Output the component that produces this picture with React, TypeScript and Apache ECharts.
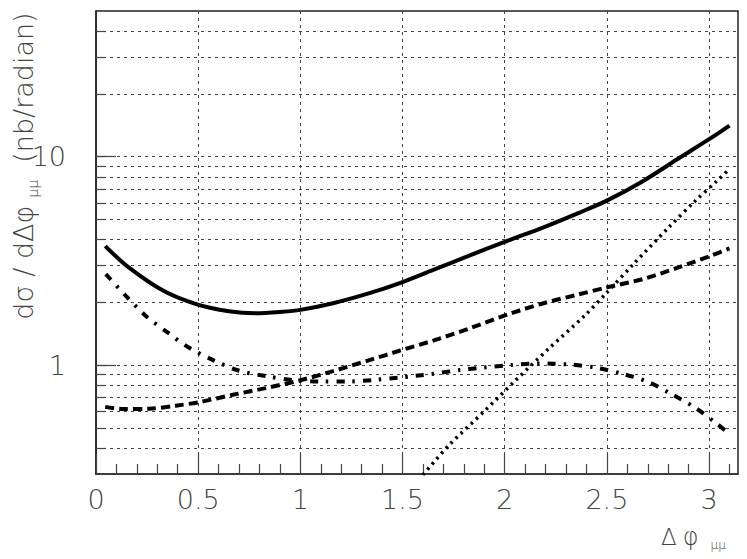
import React, { useEffect, useRef } from 'react';
import * as echarts from 'echarts';

// ---- data ----
const xMajorTicks = [0, 0.5, 1, 1.5, 2, 2.5, 3];
const xMinorTicks = [0.1, 0.2, 0.3, 0.4, 0.6, 0.7, 0.8, 0.9, 1.1, 1.2, 1.3, 1.4, 1.6, 1.7, 1.8, 1.9, 2.1, 2.2, 2.3, 2.4, 2.6, 2.7, 2.8, 2.9, 3.1];
const yMajorTicks = [1, 10];
const yGridTicks = [0.4, 0.5, 0.6, 0.7, 0.8, 0.9, 1, 2, 3, 4, 5, 6, 7, 8, 9, 10, 20, 30, 40];

const solidTotal: [number, number][] = [
  [0.045, 3.72], [0.16, 2.94], [0.33, 2.27], [0.49, 1.96], [0.65, 1.81], [0.78, 1.77],
  [0.91, 1.8], [1.0, 1.84], [1.16, 1.98], [1.33, 2.2], [1.49, 2.48], [1.65, 2.86],
  [1.82, 3.33], [2.0, 3.9], [2.19, 4.58], [2.36, 5.36], [2.5, 6.15], [2.68, 7.67],
  [2.85, 9.8], [3.01, 12.3], [3.1, 14.1],
];
const dashedCurve: [number, number][] = [
  [0.045, 0.63], [0.13, 0.615], [0.26, 0.617], [0.39, 0.638], [0.51, 0.665], [0.67, 0.72],
  [0.83, 0.775], [1.0, 0.845], [1.16, 0.935], [1.33, 1.05], [1.49, 1.175], [1.65, 1.31],
  [1.82, 1.49], [2.03, 1.77], [2.19, 1.98], [2.36, 2.18], [2.5, 2.36], [2.68, 2.59],
  [2.85, 2.94], [3.01, 3.35], [3.1, 3.63],
];
const dashDotCurve: [number, number][] = [
  [0.048, 2.73], [0.146, 2.15], [0.244, 1.72], [0.35, 1.434], [0.456, 1.21], [0.578, 1.05],
  [0.701, 0.939], [0.84, 0.882], [0.971, 0.845], [1.1, 0.834], [1.24, 0.834], [1.37, 0.85],
  [1.49, 0.872], [1.64, 0.905], [1.78, 0.946], [1.9, 0.974], [2.03, 1.0], [2.16, 1.018],
  [2.31, 1.007], [2.44, 0.974], [2.57, 0.911], [2.7, 0.832], [2.81, 0.731], [2.93, 0.626],
  [3.04, 0.521], [3.09, 0.475],
];
const dottedCurve: [number, number][] = [
  [1.6, 0.297], [1.73, 0.415], [1.9, 0.6], [2.04, 0.82], [2.22, 1.21], [2.39, 1.72],
  [2.5, 2.23], [2.63, 3.05], [2.8, 4.55], [2.93, 6.1], [3.04, 7.67], [3.1, 8.73],
];

const FONT = "'DejaVu Sans', 'Liberation Sans', sans-serif";
const TEXT_COLOR = '#444';

export default function App() {
  const ref = useRef<HTMLDivElement>(null);
  useEffect(() => {
    if (!ref.current) return;
    const chart = echarts.init(ref.current, undefined, { renderer: 'svg' });
    const grid = { color: '#444', width: 1, type: [3, 4] as number[] };
    const tickStyle = { color: '#444', width: 1.2 };
    const label = { fontFamily: FONT, fontSize: 27, fontWeight: 200 as any, color: TEXT_COLOR };
    const lineSeries = (data: [number, number][], type: any, width: number) => ({
      type: 'line',
      data,
      xAxisIndex: 0,
      yAxisIndex: 0,
      showSymbol: false,
      symbol: 'none',
      smooth: 0.3,
      clip: true,
      lineStyle: { color: '#000', width, type, cap: 'butt' },
    });
    chart.setOption({
      animation: false,
      backgroundColor: '#fff',
      grid: {
        left: 96, right: 9, top: 11, bottom: 85,
        show: true, borderColor: '#222', borderWidth: 1.5,
        outerBoundsMode: 'none',
      },
      xAxis: [
        {
          type: 'value', min: 0, max: Math.PI, position: 'bottom',
          axisLine: { show: true, onZero: false, lineStyle: { color: '#333', width: 1.5 } },
          axisTick: { show: true, inside: true, length: 20, customValues: xMajorTicks, lineStyle: tickStyle },
          axisLabel: { ...label, margin: 12, customValues: xMajorTicks, formatter: (v: number) => String(v) },
          splitLine: { show: true, lineStyle: grid },
        },
        {
          type: 'value', min: 0, max: Math.PI, position: 'bottom',
          axisLine: { show: false },
          axisTick: { show: true, inside: true, length: 10, customValues: xMinorTicks, lineStyle: tickStyle },
          axisLabel: { show: false },
          splitLine: { show: false },
        },
      ],
      yAxis: [
        {
          type: 'log', logBase: 10, min: 0.3, max: 50, position: 'left',
          axisLine: { show: true, onZero: false, lineStyle: { color: '#222', width: 1.5 } },
          axisTick: { show: true, inside: true, length: 10, customValues: yGridTicks, lineStyle: tickStyle },
          axisLabel: { ...label, margin: 30, customValues: yMajorTicks, formatter: (v: number) => String(v) },
          splitLine: { show: true, lineStyle: grid },
        },
        {
          type: 'log', logBase: 10, min: 0.3, max: 50, position: 'left', offset: 0,
          axisLine: { show: false },
          axisTick: { show: true, inside: true, length: 20, customValues: yMajorTicks, lineStyle: tickStyle },
          axisLabel: { show: false },
          splitLine: { show: false },
        },
      ],
      series: [
        lineSeries(solidTotal, 'solid', 4),
        lineSeries(dashedCurve, [9, 5], 4),
        lineSeries(dashDotCurve, [8, 8, 2.5, 8], 4),
        lineSeries(dottedCurve, [2.5, 4.5], 3.5),
      ],
      graphic: [
        {
          type: 'text', x: 23, y: 166, rotation: Math.PI / 2,
          style: {
            text: '{m|dσ / dΔφ}{s|μμ}{m|  (nb/radian)}',
            align: 'center', verticalAlign: 'middle',
            rich: {
              m: { fontFamily: FONT, fontSize: 27, fontWeight: 200, fill: TEXT_COLOR, lineHeight: 34 },
              s: { fontFamily: FONT, fontSize: 14, fontWeight: 200, fill: TEXT_COLOR, lineHeight: 34, verticalAlign: 'bottom', padding: [12, 0, 0, 8] },
            },
          },
        },
        {
          type: 'text', x: 661, y: 537,
          style: {
            text: '{m|Δ}{p|φ}{s|μμ}',
            align: 'left', verticalAlign: 'middle',
            rich: {
              m: { fontFamily: FONT, fontSize: 23, fontWeight: 200, fill: TEXT_COLOR, lineHeight: 28 },
              p: { fontFamily: FONT, fontSize: 24, fontWeight: 200, fill: TEXT_COLOR, lineHeight: 28, padding: [0, 0, 0, 6] },
              s: { fontFamily: FONT, fontSize: 12, fontWeight: 200, fill: TEXT_COLOR, lineHeight: 28, verticalAlign: 'bottom', padding: [10, 0, 0, 12] },
            },
          },
        },
      ],
    });
    return () => chart.dispose();
  }, []);
  return <div ref={ref} style={{ width: 747, height: 559, position: 'absolute', left: 0, top: 0 }} />;
}
